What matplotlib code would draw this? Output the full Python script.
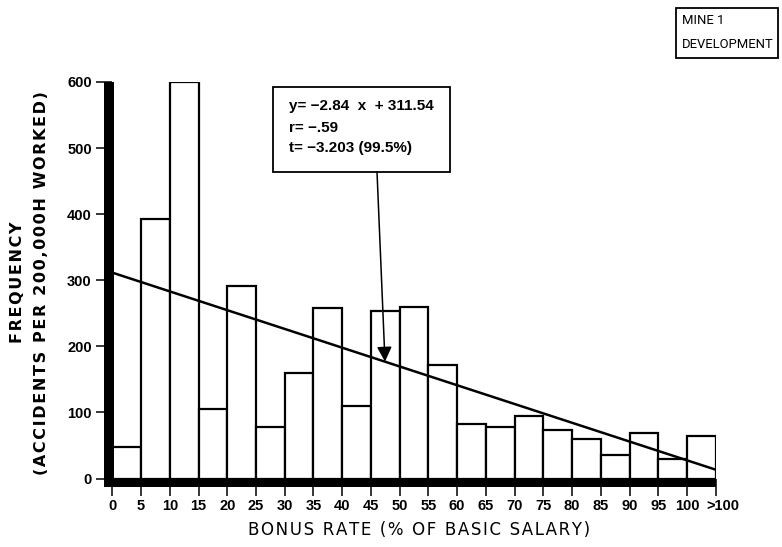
import matplotlib
matplotlib.use("Agg")
import matplotlib.pyplot as plt
from matplotlib.patches import Rectangle
from matplotlib.transforms import ScaledTranslation

# Accident frequency per bonus-rate class (accidents per 200,000 h worked)
bin_edges = [0, 5, 10, 15, 20, 25, 30, 35, 40, 45, 50, 55, 60, 65, 70, 75,
             80, 85, 90, 95, 100, 105]
frequency = [48, 393, 600, 105, 292, 78, 159, 258, 110, 254, 260, 171,
             83, 78, 94, 74, 60, 35, 69, 30, 65]
tick_labels = ["0", "5", "10", "15", "20", "25", "30", "35", "40", "45", "50",
               "55", "60", "65", "70", "75", "80", "85", "90", "95", "100", ">100"]
y_ticks = [0, 100, 200, 300, 400, 500, 600]

# Least-squares fit
slope = -2.84
intercept = 311.54
fit_x = [0, 105]

stats_lines = ["y= \u22122.84  x  + 311.54", "r= \u2212.59", "t= \u22123.203 (99.5%)"]


def spaced(s, gap="\u200a", word=" \u2009"):
    """Letter-spaced text in the style of stencil lettering."""
    words = s.split(" ")
    return word.join(gap.join(w) for w in words)


W, H = 782, 547
fig = plt.figure(figsize=(W / 100, H / 100), dpi=100)
fig.patch.set_facecolor("white")

def fx(px):
    return px / W

def fy(py):
    return 1 - py / H

ax = fig.add_axes([fx(112.3), fy(478.5), fx(715.7) - fx(112.3), fy(82) - fy(478.5)])
ax.set_xlim(0, 105)
ax.set_ylim(0, 600)
for s in ax.spines.values():
    s.set_visible(False)

tick_font = dict(family="Liberation Sans", weight="bold", size=10.5)

# Histogram bars
lefts = bin_edges[:-1]
widths = [b - a for a, b in zip(bin_edges[:-1], bin_edges[1:])]
ax.bar(lefts, frequency, width=widths, align="edge", facecolor="white",
       edgecolor="black", linewidth=1.6, zorder=2)

# Regression line
fit_y = [slope * x + intercept for x in fit_x]
ax.plot(fit_x, fit_y, color="black", linewidth=1.8, zorder=3, solid_capstyle="butt")

# Heavy axis bars
px_x = 105 / (715.7 - 112.3)
px_y = 600 / (478.5 - 82)
ax.add_patch(Rectangle((-8.3 * px_x, -8.5 * px_y), 10.3 * px_x, 600 + 8.5 * px_y,
                       facecolor="black", edgecolor="none", clip_on=False, zorder=4))
ax.add_patch(Rectangle((-8.3 * px_x, -8.5 * px_y), 105 + 8.3 * px_x, 9.0 * px_y,
                       facecolor="black", edgecolor="none", clip_on=False, zorder=4))

# Ticks
ax.set_yticks(y_ticks)
ax.set_yticklabels([str(v) for v in y_ticks], fontdict=tick_font)
ax.set_xticks(bin_edges)
ax.set_xticklabels(tick_labels, fontdict=tick_font)
ax.tick_params(axis="y", direction="out", length=11.3, width=1.1, pad=3.5, color="black")
ax.tick_params(axis="x", direction="out", length=11.9, width=1.1, pad=3.0, color="black")
# nudge the open-ended class label clear of its neighbour
last = ax.get_xticklabels()[-1]
last.set_transform(last.get_transform() + ScaledTranslation(5 / 72, 0, fig.dpi_scale_trans))

# Statistics box with arrow to the fit line
box_x0 = (273 - 112.3) * px_x
box_x1 = (450 - 112.3) * px_x
box_y0 = (478.5 - 171.7) * px_y
box_y1 = (478.5 - 86.7) * px_y
ax.add_patch(Rectangle((box_x0, box_y0), box_x1 - box_x0, box_y1 - box_y0,
                       facecolor="white", edgecolor="black", linewidth=1.3,
                       clip_on=False, zorder=5))
text_x = (289 - 112.3) * px_x
for i, line in enumerate(stats_lines):
    ty = (478.5 - (106.5 + 21.0 * i)) * px_y
    ax.text(text_x, ty, line, ha="left", va="center", zorder=6,
            family="Liberation Sans", weight="bold", size=11)

tip_x = (385 - 112.3) * px_x
tip_y = slope * tip_x + intercept
ax.annotate("", xy=(tip_x, tip_y), xytext=((377 - 112.3) * px_x, box_y0),
            arrowprops=dict(arrowstyle="-|>,head_length=0.9,head_width=0.45",
                            color="black", linewidth=1.1, shrinkA=0, shrinkB=0),
            zorder=6, annotation_clip=False)

# Axis titles
fig.text(fx(419), fy(530), spaced("BONUS RATE (% OF BASIC SALARY)"), ha="center",
         va="center", family="DejaVu Sans", size=12)
fig.text(fx(18), fy(282), spaced("FREQUENCY"), rotation=90, ha="center",
         va="center", family="DejaVu Sans", weight="bold", size=11.5)
fig.text(fx(42), fy(283), spaced("(ACCIDENTS PER 200,000H WORKED)"), rotation=90,
         ha="center", va="center", family="DejaVu Sans", weight="bold", size=11.5)

# Panel caption
fig.patches.append(Rectangle((fx(676), fy(58)), fx(778) - fx(676), fy(8) - fy(58),
                             transform=fig.transFigure, facecolor="white",
                             edgecolor="black", linewidth=1.3, figure=fig))
cap_font = dict(family="Roboto", size=9.4)
fig.text(fx(682), fy(21), "MINE 1", ha="left", va="center", **cap_font)
fig.text(fx(682), fy(44), "DEVELOPMENT", ha="left", va="center", **cap_font)

fig.savefig("out.png", dpi=100, facecolor="white")
